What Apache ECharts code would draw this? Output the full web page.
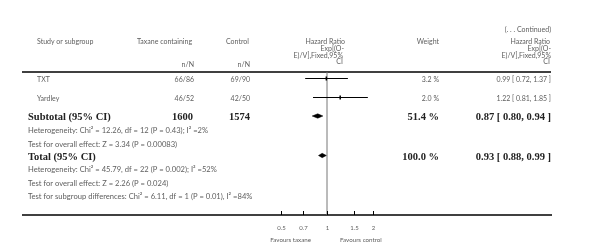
<!DOCTYPE html>
<html><head><meta charset="utf-8">
<script src="https://cdn.jsdelivr.net/npm/echarts@6/dist/echarts.min.js"></script>
<style>html,body{margin:0;padding:0;background:#fff}#c{width:604px;height:252px}</style>
</head><body><div id="c"></div>
<script>
// ---- data ----
const studies = ['TXT', 'Yardley'];
const taxaneNN = ['66/86', '46/52'];
const controlNN = ['69/90', '42/50'];
const weights = [3.2, 2.0];
const hr = [0.99, 1.22];
const lo = [0.72, 0.81];
const hi = [1.37, 1.85];

const pooledLabels = ['Subtotal (95% CI)', 'Total (95% CI)'];
const pooledTaxane = ['1600', ''];
const pooledControl = ['1574', ''];
const pooledWeight = [51.4, 100.0];
const pooledHR = [0.87, 0.93];
const pooledLo = [0.80, 0.88];
const pooledHi = [0.94, 0.99];

const notes1 = ['Heterogeneity: Chi\u00b2 = 12.26, df = 12 (P = 0.43); I\u00b2 =2%',
                'Test for overall effect: Z = 3.34 (P = 0.00083)'];
const notes2 = ['Heterogeneity: Chi\u00b2 = 45.79, df = 22 (P = 0.002); I\u00b2 =52%',
                'Test for overall effect: Z = 2.26 (P = 0.024)',
                'Test for subgroup differences: Chi\u00b2 = 6.11, df = 1 (P = 0.01), I\u00b2 =84%'];

const tickVals = [0.5, 0.7, 1, 1.5, 2];
const tickLabels = ['0.5', '0.7', '1', '1.5', '2'];

// ---- layout (pixels) ----
const STUDY_TEXT_Y = [80, 98.5];
const STUDY_MARK_Y = [78.5, 97.5];
const POOLED_TEXT_Y = [117, 157];
const POOLED_MARK_Y = [116, 155.5];
const NOTES1_Y = [131, 145];
const NOTES2_Y = [170, 183.5, 197];
const AXIS_Y = 215;
const TOP_RULE_Y = 72;
const FOREST_LEFT = 276, FOREST_W = 100, X_AT_ONE = 327, PX_PER_LN = 66.4;
const xMin = Math.exp((FOREST_LEFT - X_AT_ONE) / PX_PER_LN);
const xMax = Math.exp((FOREST_LEFT + FOREST_W - X_AT_ONE) / PX_PER_LN);

const LIGHT = '#5e5e5e';
const FONT = 'Lato';
const SERIF = '"Liberation Serif", "DejaVu Serif", serif';

function txt(x, y, s, align, extra) {
  return {
    type: 'text', x: x, y: y, silent: true,
    style: Object.assign({text: s, fill: LIGHT, font: '7px ' + FONT,
      textAlign: align || 'left', textVerticalAlign: 'middle'}, (extra || {}))
  };
}
function note(x, y, s) {
  return txt(x, y, s, 'left', {font: '7.6px ' + FONT});
}
function bold(x, y, s, align) {
  return txt(x, y, s, align, {font: 'bold 10.5px ' + SERIF, fill: '#222'});
}
const ciText = (h, l, u) => h.toFixed(2) + ' [ ' + l.toFixed(2) + ', ' + u.toFixed(2) + ' ]';

const graphics = [];
// header
graphics.push(txt(37, 42, 'Study or subgroup'));
graphics.push(txt(137, 42, 'Taxane containing'));
graphics.push(txt(226, 42, 'Control'));
graphics.push(txt(194, 65, 'n/N', 'right'));
graphics.push(txt(250, 65, 'n/N', 'right'));
graphics.push(txt(345, 42, 'Hazard Ratio', 'right'));
graphics.push(txt(344, 49, 'Exp[(O-', 'right'));
graphics.push(txt(343, 55.5, 'E)/V],Fixed,95%', 'right'));
graphics.push(txt(343, 62, 'CI', 'right'));
graphics.push(txt(439, 42, 'Weight', 'right'));
graphics.push(txt(551, 30, '(. . . Continued)', 'right'));
graphics.push(txt(550, 42, 'Hazard Ratio', 'right'));
graphics.push(txt(551, 49, 'Exp[(O-', 'right'));
graphics.push(txt(551, 55.5, 'E)/V],Fixed,95%', 'right'));
graphics.push(txt(550, 62, 'CI', 'right'));
// rules
graphics.push({type: 'line', silent: true, shape: {x1: 22, y1: TOP_RULE_Y, x2: 551, y2: TOP_RULE_Y}, style: {stroke: '#000', lineWidth: 1.5}});
graphics.push({type: 'line', silent: true, shape: {x1: 22, y1: AXIS_Y, x2: 552, y2: AXIS_Y}, style: {stroke: '#000', lineWidth: 1.5}});
// study rows
studies.forEach((s, i) => {
  const y = STUDY_TEXT_Y[i];
  graphics.push(txt(37, y, s));
  graphics.push(txt(194, y, taxaneNN[i], 'right'));
  graphics.push(txt(250, y, controlNN[i], 'right'));
  graphics.push(txt(439, y, weights[i].toFixed(1) + ' %', 'right'));
  graphics.push(txt(551, y, ciText(hr[i], lo[i], hi[i]), 'right'));
});
// pooled rows
pooledLabels.forEach((s, i) => {
  const y = POOLED_TEXT_Y[i];
  graphics.push(bold(28, y, s));
  if (pooledTaxane[i]) graphics.push(bold(193, y, pooledTaxane[i], 'right'));
  if (pooledControl[i]) graphics.push(bold(250, y, pooledControl[i], 'right'));
  graphics.push(bold(439, y, pooledWeight[i].toFixed(1) + ' %', 'right'));
  graphics.push(bold(551, y, ciText(pooledHR[i], pooledLo[i], pooledHi[i]), 'right'));
});
notes1.forEach((s, i) => graphics.push(note(28, NOTES1_Y[i], s)));
notes2.forEach((s, i) => graphics.push(note(28, NOTES2_Y[i], s)));
graphics.push(txt(311, 240, 'Favours taxane', 'right', {font: '6.2px ' + FONT}));
graphics.push(txt(340, 240, 'Favours control', 'left', {font: '6.2px ' + FONT}));

const chart = echarts.init(document.getElementById('c'), null, {renderer: 'canvas'});
chart.setOption({
  animation: false,
  backgroundColor: '#fff',
  grid: {left: FOREST_LEFT, width: FOREST_W, top: 0, height: 252},
  xAxis: {type: 'log', min: xMin, max: xMax, show: false},
  yAxis: {type: 'value', min: 0, max: 252, inverse: true, show: false},
  graphic: graphics,
  series: [
    { // reference line at HR = 1
      type: 'line', data: [[1, TOP_RULE_Y], [1, AXIS_Y]], symbol: 'none',
      lineStyle: {color: '#777', width: 1}, silent: true, z: 1
    },
    { // study CIs
      type: 'custom', silent: true, z: 3,
      encode: {x: [0, 1, 2], y: 3},
      data: hr.map((v, i) => [v, lo[i], hi[i], STUDY_MARK_Y[i]]),
      renderItem: (params, api) => {
        const y = api.value(3);
        const p = api.coord([api.value(0), y]);
        const a = api.coord([api.value(1), y]);
        const b = api.coord([api.value(2), y]);
        return {type: 'group', children: [
          {type: 'line', shape: {x1: a[0], y1: a[1], x2: b[0], y2: b[1]}, style: {stroke: '#000', lineWidth: 1}},
          {type: 'rect', shape: {x: p[0] - 0.75, y: p[1] - 2, width: 1.5, height: 4}, style: {fill: '#000'}}
        ]};
      }
    },
    { // pooled diamonds
      type: 'custom', silent: true, z: 3,
      encode: {x: [0, 1, 2], y: 3},
      data: pooledHR.map((v, i) => [v, pooledLo[i], pooledHi[i], POOLED_MARK_Y[i]]),
      renderItem: (params, api) => {
        const y = api.value(3);
        const p = api.coord([api.value(0), y]);
        const a = api.coord([api.value(1), y]);
        const b = api.coord([api.value(2), y]);
        return {type: 'polygon', shape: {points: [[a[0], y], [p[0], y - 2.2], [b[0], y], [p[0], y + 2.2]]},
          style: {fill: '#000', stroke: '#000', lineWidth: 0.5}};
      }
    },
    { // axis ticks and labels
      type: 'custom', silent: true, z: 3,
      encode: {x: 0, y: 1},
      data: tickVals.map((v, i) => [v, AXIS_Y]),
      renderItem: (params, api) => {
        const p = api.coord([api.value(0), api.value(1)]);
        const x = Math.round(p[0]) + 0.5;
        return {type: 'group', children: [
          {type: 'line', shape: {x1: x, y1: p[1] - 4, x2: x, y2: p[1]}, style: {stroke: '#000', lineWidth: 1}},
          {type: 'text', style: {x: x, y: p[1] + 13, text: tickLabels[params.dataIndex], fill: LIGHT,
            font: '6px ' + FONT, textAlign: 'center', textVerticalAlign: 'middle'}}
        ]};
      }
    }
  ]
});
</script>
</body></html>
